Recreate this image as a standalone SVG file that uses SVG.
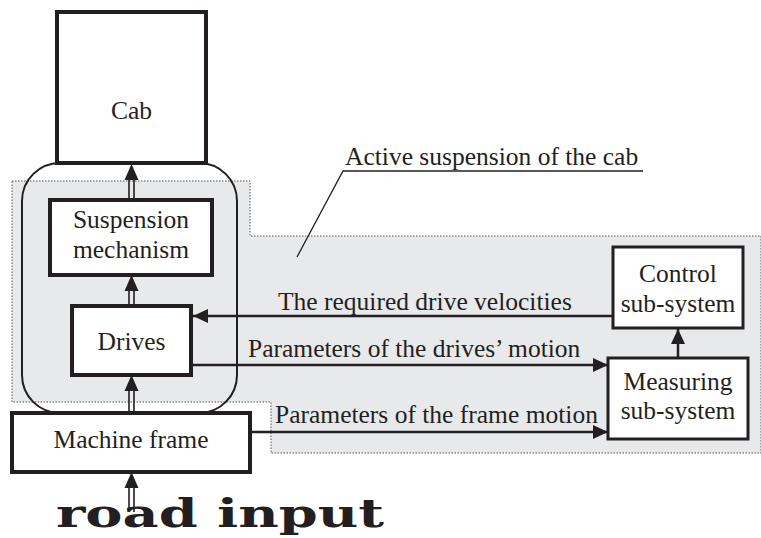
<svg xmlns="http://www.w3.org/2000/svg" width="761" height="538" viewBox="0 0 761 538">
<defs>
<style>
.lbl{font-family:"Liberation Serif","Times New Roman",serif;font-size:25.5px;fill:#231f20}
.mid{text-anchor:middle}
.box{fill:#fff;stroke:#231f20;stroke-width:4}
.box2{fill:#fff;stroke:#231f20;stroke-width:3}
.con{stroke:#231f20;stroke-width:2.5;fill:none}
.dbl{stroke:#231f20;stroke-width:1.6;fill:none}
.head{fill:#231f20}
</style>
<marker id="ah" markerUnits="userSpaceOnUse" markerWidth="16" markerHeight="14" refX="15" refY="7" orient="auto">
<path d="M0,0 L15,7 L0,14 Z" fill="#231f20"/>
</marker>
</defs>
<rect width="761" height="538" fill="#fff"/>
<g id="region">
<path d="M12,181 H250 V236 H761 V453 H271 V402 H12 Z" fill="#e8e9eb" stroke="#555" stroke-width="1" stroke-dasharray="1.5,1.5"/>
<rect x="22" y="163" width="215" height="250" rx="38" ry="38" fill="none" stroke="#231f20" stroke-width="2"/>
</g>
<g id="connectors">
<g id="c-frame-drives">
<path class="dbl" d="M129,413 V388 M134,413 V388"/>
<path class="head" d="M131.5,375 L124.5,391 H138.5 Z"/>
</g>
<g id="c-drives-susp">
<path class="dbl" d="M129,306 V288 M134,306 V288"/>
<path class="head" d="M131.5,275 L124.5,291 H138.5 Z"/>
</g>
<g id="c-susp-cab">
<path class="dbl" d="M129,200 V178 M134,200 V178"/>
<path class="head" d="M131.5,164 L124.5,180 H138.5 Z"/>
</g>
<g id="c-road-frame">
<path class="dbl" d="M129,512 V485 M134,512 V485"/>
<path class="head" d="M131.5,472 L124.5,488 H138.5 Z"/>
</g>
<path class="con" d="M613,316 H193" marker-end="url(#ah)"/>
<path class="con" d="M191,365 H608" marker-end="url(#ah)"/>
<path class="con" d="M250,432 H608" marker-end="url(#ah)"/>
<path class="con" d="M678,358 V329" marker-end="url(#ah)"/>
<path d="M297,257 L343,171 H643" fill="none" stroke="#231f20" stroke-width="1.3"/>
</g>
<g id="cab"><rect class="box" x="57" y="12" width="149" height="151"/><text class="lbl mid" x="131.5" y="119">Cab</text></g>
<g id="suspension"><rect class="box" x="50" y="200" width="162" height="75"/><text class="lbl mid" x="131" y="228">Suspension</text><text class="lbl mid" x="131" y="258">mechanism</text></g>
<g id="drives"><rect class="box" x="72" y="306" width="119" height="69"/><text class="lbl mid" x="131.5" y="350">Drives</text></g>
<g id="frame"><rect class="box" x="12" y="413" width="238" height="59"/><text class="lbl mid" x="131" y="448">Machine frame</text></g>
<g id="control"><rect class="box2" x="613" y="247" width="130" height="81"/><text class="lbl mid" x="678" y="282">Control</text><text class="lbl mid" x="678" y="312">sub-system</text></g>
<g id="measuring"><rect class="box2" x="608" y="358" width="140" height="81"/><text class="lbl mid" x="678" y="390">Measuring</text><text class="lbl mid" x="678" y="419">sub-system</text></g>
<g id="labels">
<text class="lbl" x="345" y="165">Active suspension of the cab</text>
<text class="lbl" x="278" y="310">The required drive velocities</text>
<text class="lbl" x="248" y="357">Parameters of the drives’ motion</text>
<text class="lbl" x="275" y="423">Parameters of the frame motion</text>
<text x="56" y="527" font-family="'DejaVu Serif',serif" font-weight="bold" font-size="40" fill="#231f20" textLength="328" lengthAdjust="spacingAndGlyphs">road input</text>
</g>
</svg>
